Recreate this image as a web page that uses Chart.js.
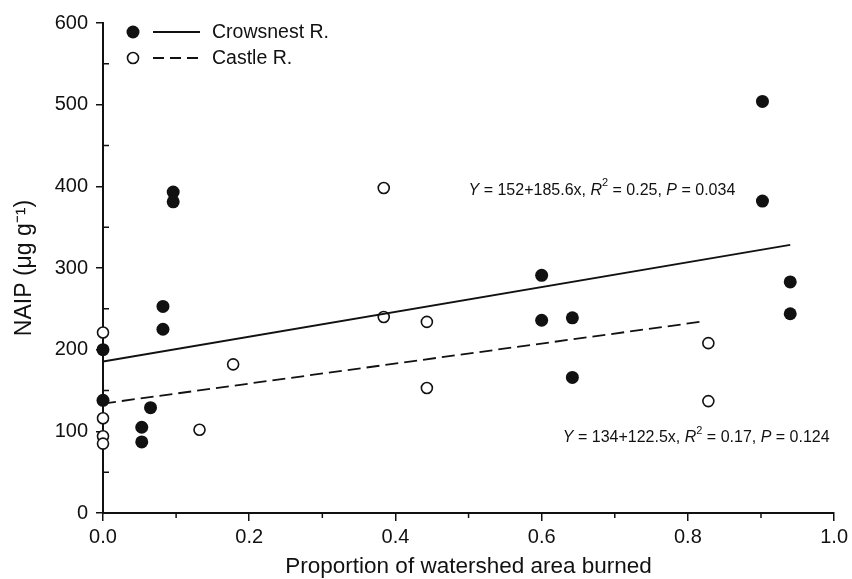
<!DOCTYPE html>
<html>
<head>
<meta charset="utf-8">
<script src="https://cdn.jsdelivr.net/npm/chart.js@4.4.1/dist/chart.umd.min.js"></script>
<style>
  html, body { margin: 0; padding: 0; background: #fff; }
  canvas { display: block; }
</style>
</head>
<body>
<canvas id="chart" width="852" height="579"></canvas>
<script>
// Crowsnest R. - filled circles
const crowsnestX = [0, 0, 0.053, 0.053, 0.065, 0.082, 0.082, 0.096, 0.096, 0.6, 0.6, 0.642, 0.642, 0.902, 0.902, 0.94, 0.94];
const crowsnestY = [200, 138, 105, 87, 129, 253, 225, 393, 381, 291, 236, 239, 166, 504, 382, 283, 244];

// Castle R. - open circles
const castleX = [0, 0, 0, 0, 0.132, 0.178, 0.384, 0.384, 0.443, 0.443, 0.828, 0.828];
const castleY = [221, 116, 94, 85, 102, 182, 398, 240, 234, 153, 208, 137];

// regression lines as they are drawn: [intercept, slope] and x range
const crowsnestFit = [185.5, 152];
const crowsnestRange = [0, 0.94];
const castleFit = [134, 122.5];
const castleRange = [0, 0.822];

const seriesNames = ['Crowsnest R.', 'Castle R.'];
const xTicks = [0, 0.2, 0.4, 0.6, 0.8, 1.0];
const yTicks = [0, 100, 200, 300, 400, 500, 600];

// equation notes, i = italic, s = superscript
const crowsnestNote = [['Y', 'i'], [' = 152+185.6x, ', ''], ['R', 'i'], ['2', 's'], [' = 0.25, ', ''], ['P', 'i'], [' = 0.034', '']];
const castleNote = [['Y', 'i'], [' = 134+122.5x, ', ''], ['R', 'i'], ['2', 's'], [' = 0.17, ', ''], ['P', 'i'], [' = 0.124', '']];

const ink = '#111';
const fontFam = "'Liberation Sans', Arial, sans-serif";
const dash = [13, 6];

function pts(xs, ys) {
    return xs.map((x, i) => ({ x: x, y: ys[i] }));
}
function fitLine(fit, range) {
    return range.map(x => ({ x: x, y: fit[0] + fit[1] * x }));
}

// small extras: minor ticks, legend, equation text
const extras = {
    id: 'extras',
    afterDraw(chart) {
        const { ctx, chartArea: a, scales: { x, y } } = chart;
        ctx.save();

        // minor ticks
        ctx.strokeStyle = ink;
        ctx.lineWidth = 1.5;
        ctx.beginPath();
        for (let v = 50; v < 600; v += 100) {
            const py = y.getPixelForValue(v);
            ctx.moveTo(a.left, py);
            ctx.lineTo(a.left + 6, py);
        }
        for (let v = 0.1; v < 1; v += 0.2) {
            const px = x.getPixelForValue(v);
            ctx.moveTo(px, a.bottom);
            ctx.lineTo(px, a.bottom + 5);
        }
        ctx.stroke();

        // legend
        const lx = a.left + 30;
        const rows = [a.top + 9, a.top + 35];
        ctx.font = '19.5px ' + fontFam;
        ctx.fillStyle = ink;
        ctx.textBaseline = 'middle';
        rows.forEach((ry, i) => {
            ctx.beginPath();
            ctx.arc(lx, ry, i === 0 ? 6.5 : 5.5, 0, Math.PI * 2);
            if (i === 0) {
                ctx.fillStyle = ink;
                ctx.fill();
            } else {
                ctx.fillStyle = '#fff';
                ctx.fill();
                ctx.lineWidth = 1.6;
                ctx.stroke();
            }
            ctx.beginPath();
            ctx.lineWidth = 1.8;
            ctx.setLineDash(i === 0 ? [] : [11, 6]);
            ctx.moveTo(lx + 20, ry);
            ctx.lineTo(lx + 67, ry);
            ctx.stroke();
            ctx.setLineDash([]);
            ctx.fillStyle = ink;
            ctx.fillText(seriesNames[i], lx + 79, ry + 1);
        });

        // equations
        const notes = [[crowsnestNote, 0.5, 395], [castleNote, 0.629, 92]];
        notes.forEach(([segs, vx, vy]) => {
            let px = x.getPixelForValue(vx);
            const py = y.getPixelForValue(vy);
            segs.forEach(([t, f]) => {
                if (f === 's') {
                    ctx.font = '11px ' + fontFam;
                    ctx.fillText(t, px, py - 7);
                } else {
                    ctx.font = (f === 'i' ? 'italic ' : '') + '16px ' + fontFam;
                    ctx.fillText(t, px, py);
                }
                px += ctx.measureText(t).width;
            });
        });

        ctx.restore();
    }
};

new Chart(document.getElementById('chart'), {
    type: 'scatter',
    data: {
        datasets: [
            {
                type: 'line',
                data: fitLine(crowsnestFit, crowsnestRange),
                borderColor: ink,
                borderWidth: 1.8,
                pointRadius: 0,
                fill: false
            },
            {
                type: 'line',
                data: fitLine(castleFit, castleRange),
                borderColor: ink,
                borderWidth: 1.8,
                borderDash: dash,
                pointRadius: 0,
                fill: false
            },
            {
                label: seriesNames[0],
                data: pts(crowsnestX, crowsnestY),
                backgroundColor: ink,
                borderColor: ink,
                borderWidth: 0,
                pointRadius: 6.5,
                clip: false
            },
            {
                label: seriesNames[1],
                data: pts(castleX, castleY),
                backgroundColor: '#fff',
                borderColor: ink,
                borderWidth: 1.6,
                pointRadius: 5.5,
                clip: false
            }
        ]
    },
    options: {
        responsive: false,
        animation: false,
        layout: { padding: { top: 23, right: 15, left: 0, bottom: 0 } },
        plugins: {
            legend: { display: false },
            tooltip: { enabled: false }
        },
        scales: {
            x: {
                type: 'linear',
                min: 0,
                max: 1,
                afterBuildTicks: s => { s.ticks = xTicks.map(v => ({ value: v })); },
                afterFit: s => { s.height = 66; },
                border: { display: true, color: ink, width: 2 },
                grid: { drawOnChartArea: false, drawTicks: true, tickLength: 8, color: ink, lineWidth: 1.5 },
                ticks: {
                    color: ink,
                    padding: 4,
                    font: { family: fontFam, size: 20 },
                    callback: v => v.toFixed(1)
                },
                title: {
                    display: true,
                    text: 'Proportion of watershed area burned',
                    color: ink,
                    font: { family: fontFam, size: 22.5 },
                    padding: { top: 0, bottom: -1 }
                }
            },
            y: {
                type: 'linear',
                min: 0,
                max: 600,
                afterBuildTicks: s => { s.ticks = yTicks.map(v => ({ value: v })); },
                afterFit: s => { s.width = 103; },
                border: { display: true, color: ink, width: 2 },
                grid: { drawOnChartArea: false, drawTicks: true, tickLength: 7, color: ink, lineWidth: 1.5 },
                ticks: {
                    color: ink,
                    padding: 8,
                    font: { family: fontFam, size: 20 }
                },
                title: {
                    display: true,
                    text: 'NAIP (\u03bcg g\u207b\u00b9)',
                    color: ink,
                    font: { family: fontFam, size: 23 },
                    padding: { top: 11, bottom: 0 }
                }
            }
        }
    },
    plugins: [extras]
});
</script>
</body>
</html>
